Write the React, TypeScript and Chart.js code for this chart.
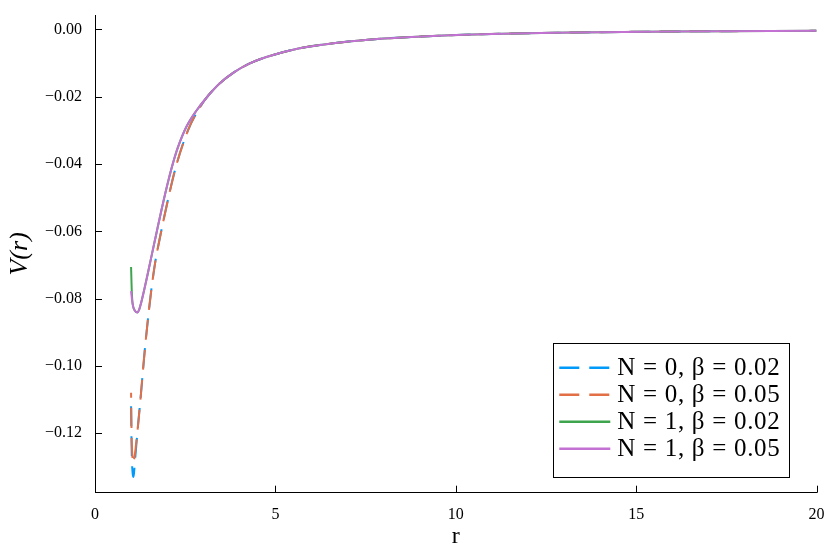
import React, { useEffect, useRef } from "react";
import { Chart, registerables } from "chart.js";

Chart.register(...registerables);

// radial grid (r) for N = 0 series
const rN0 = [1.0, 1.01, 1.02, 1.04, 1.06, 1.08, 1.11, 1.15, 1.19, 1.26, 1.38, 1.56, 1.68, 1.73, 2.05, 2.25, 2.58, 2.8, 3.09, 3.46, 3.83, 4.29, 4.75, 5.67, 6.6, 7.5, 8.64, 10.5, 13.3, 16, 20];
const vN0b002 = [-0.112, -0.121, -0.127, -0.1315, -0.133, -0.132, -0.128, -0.123, -0.118, -0.11, -0.0953, -0.0775, -0.0685, -0.0656, -0.0493, -0.0405, -0.0299, -0.0251, -0.0203, -0.016, -0.0129, -0.0101, -0.0082, -0.0056, -0.0041, -0.0031, -0.0023, -0.0015, -0.0009, -0.0006, -0.0004];
const vN0b005 = [-0.108, -0.117, -0.123, -0.1275, -0.129, -0.128, -0.126, -0.122, -0.118, -0.11, -0.0953, -0.0775, -0.0685, -0.0656, -0.0493, -0.0405, -0.0299, -0.0251, -0.0203, -0.016, -0.0129, -0.0101, -0.0082, -0.0056, -0.0041, -0.0031, -0.0023, -0.0015, -0.0009, -0.0006, -0.0004];

// radial grid for N = 1 series
const rN1b002 = [1.0, 1.01, 1.02, 1.04, 1.1, 1.17, 1.22, 1.28, 1.36, 1.45, 1.55, 1.65, 1.75, 1.85, 1.95, 2.05, 2.16, 2.3, 2.53, 2.8, 3.09, 3.46, 3.83, 4.29, 4.75, 5.67, 6.6, 7.5, 8.64, 10.5, 13.3, 16, 20];
const vN1b002 = [-0.0706, -0.0745, -0.078, -0.0812, -0.0835, -0.0841, -0.0834, -0.0812, -0.0776, -0.0732, -0.0682, -0.0632, -0.0582, -0.0533, -0.0486, -0.0442, -0.0398, -0.035, -0.029, -0.0243, -0.0203, -0.016, -0.0129, -0.0101, -0.0082, -0.0056, -0.0041, -0.0031, -0.0023, -0.0015, -0.0009, -0.0006, -0.0004];
const rN1b005 = [1.0, 1.04, 1.1, 1.17, 1.22, 1.28, 1.36, 1.45, 1.55, 1.65, 1.75, 1.85, 1.95, 2.05, 2.16, 2.3, 2.53, 2.8, 3.09, 3.46, 3.83, 4.29, 4.75, 5.67, 6.6, 7.5, 8.64, 10.5, 13.3, 16, 20];
const vN1b005 = [-0.0778, -0.0815, -0.0835, -0.0841, -0.0834, -0.0812, -0.0776, -0.0732, -0.0682, -0.0632, -0.0582, -0.0533, -0.0486, -0.0442, -0.0398, -0.035, -0.029, -0.0243, -0.0203, -0.016, -0.0129, -0.0101, -0.0082, -0.0056, -0.0041, -0.0031, -0.0023, -0.0015, -0.0009, -0.0006, -0.0004];

const seriesLabels = ["N = 0, β = 0.02", "N = 0, β = 0.05", "N = 1, β = 0.02", "N = 1, β = 0.05"];
const seriesColors = ["#009AFA", "#E36F47", "#3EA44E", "#C371D2"];

const xTicks = [0, 5, 10, 15, 20];
const yTicks = [0, -0.02, -0.04, -0.06, -0.08, -0.1, -0.12];
const xMin = 0;
const xMax = 20;
const yMin = -0.1377;
const yMax = 0.0043;

const SERIF = "'Liberation Serif', 'DejaVu Serif', serif";

function pts(xs: number[], ys: number[]) {
  return xs.map((x, i) => ({ x, y: ys[i] }));
}

const innerTicks = {
  id: "innerTicks",
  afterDraw(chart: any) {
    const ctx = chart.ctx;
    const xs = chart.scales.x;
    const ys = chart.scales.y;
    const area = chart.chartArea;
    ctx.save();
    ctx.strokeStyle = "#000";
    ctx.lineWidth = 1;
    ctx.beginPath();
    xs.ticks.forEach((t: any) => {
      const px = Math.round(xs.getPixelForValue(t.value)) + 0.5;
      ctx.moveTo(px, area.bottom);
      ctx.lineTo(px, area.bottom - 7);
    });
    ys.ticks.forEach((t: any) => {
      const py = Math.round(ys.getPixelForValue(t.value)) + 0.5;
      ctx.moveTo(area.left, py);
      ctx.lineTo(area.left + 7, py);
    });
    ctx.stroke();
    ctx.restore();
  },
};

const boxLegend = {
  id: "boxLegend",
  afterDraw(chart: any) {
    const ctx = chart.ctx;
    const area = chart.chartArea;
    const ds = chart.data.datasets;
    const fontSize = 25;
    ctx.save();
    ctx.font = `${fontSize}px ${SERIF}`;
    try {
      (ctx as any).letterSpacing = "0.7px";
    } catch (e) {}
    let tw = 0;
    ds.forEach((d: any) => {
      tw = Math.max(tw, ctx.measureText(d.label).width);
    });
    const lineLen = 51;
    const padL = 6;
    const gap = 7;
    const padR = 9;
    const rowH = 27;
    const w = padL + lineLen + gap + tw + padR;
    const h = rowH * ds.length + 26;
    const right = area.right - 27;
    const bottom = area.bottom - 16;
    const left = right - w;
    const top = bottom - h;
    ctx.fillStyle = "#fff";
    ctx.fillRect(left, top, w, h);
    ctx.strokeStyle = "#000";
    ctx.lineWidth = 1;
    ctx.strokeRect(Math.round(left) + 0.5, Math.round(top) + 0.5, Math.round(w), Math.round(h));
    ds.forEach((d: any, i: number) => {
      const cy = top + 25 + i * rowH;
      ctx.strokeStyle = d.borderColor;
      ctx.lineWidth = 2.5;
      ctx.setLineDash(d.borderDash || []);
      ctx.lineDashOffset = 0;
      ctx.beginPath();
      ctx.moveTo(left + padL, cy);
      ctx.lineTo(left + padL + lineLen, cy);
      ctx.stroke();
      ctx.setLineDash([]);
      ctx.fillStyle = "#000";
      ctx.textBaseline = "middle";
      ctx.textAlign = "left";
      ctx.fillText(d.label, left + padL + lineLen + gap, cy + 1);
    });
    ctx.restore();
  },
};

export default function App() {
  const ref = useRef<HTMLCanvasElement>(null);

  useEffect(() => {
    document.body.style.margin = "0";
    const canvas = ref.current;
    if (!canvas) return;
    const dash = [20, 10];
    const chart = new Chart(canvas, {
      type: "line",
      data: {
        datasets: [
          { label: seriesLabels[0], data: pts(rN0, vN0b002), borderColor: seriesColors[0], borderDash: dash, order: 4 },
          { label: seriesLabels[1], data: pts(rN0, vN0b005), borderColor: seriesColors[1], borderDash: dash, borderDashOffset: 15, order: 3 },
          { label: seriesLabels[2], data: pts(rN1b002, vN1b002), borderColor: seriesColors[2], order: 2 },
          { label: seriesLabels[3], data: pts(rN1b005, vN1b005), borderColor: seriesColors[3], order: 1 },
        ] as any,
      },
      options: {
        animation: false,
        responsive: false,
        devicePixelRatio: 1,
        parsing: false as any,
        elements: {
          point: { radius: 0 },
          line: { borderWidth: 2, cubicInterpolationMode: "monotone", fill: false },
        },
        layout: { padding: { left: 4, right: 13.5, top: 15, bottom: 0 } },
        plugins: {
          legend: { display: false },
          tooltip: { enabled: false },
        },
        scales: {
          x: {
            type: "linear",
            min: xMin,
            max: xMax,
            afterBuildTicks: (s: any) => {
              s.ticks = xTicks.map((v) => ({ value: v }));
            },
            afterFit: (s: any) => {
              s.height = 554 - 492.7;
              s.paddingLeft = 0;
              s.paddingRight = 0;
            },
            grid: { display: false, drawTicks: false },
            border: { display: true, color: "#000", width: 1 },
            ticks: {
              color: "#000",
              font: { family: SERIF, size: 16 },
              padding: 12,
              maxRotation: 0,
              callback: (v: any) => String(v),
            },
            title: {
              display: true,
              text: "r",
              color: "#000",
              font: { family: SERIF, size: 24 },
              padding: { top: 0, bottom: 3 },
            },
          },
          y: {
            type: "linear",
            min: yMin,
            max: yMax,
            afterBuildTicks: (s: any) => {
              s.ticks = yTicks.map((v) => ({ value: v }));
            },
            afterFit: (s: any) => {
              s.width = 95 - 4;
              s.paddingTop = 0;
              s.paddingBottom = 0;
            },
            grid: { display: false, drawTicks: false },
            border: { display: true, color: "#000", width: 1 },
            ticks: {
              color: "#000",
              font: { family: SERIF, size: 16 },
              padding: 13,
              callback: (v: any) => {
                const n = Number(v);
                const s = Math.abs(n).toFixed(2);
                return n < -1e-9 ? "\u2212" + s : s;
              },
            },
            title: {
              display: true,
              text: "V(r)",
              color: "#000",
              font: { family: SERIF, size: 26, style: "italic" },
              padding: { top: 1, bottom: 0 },
            },
          },
        },
      },
      plugins: [innerTicks, boxLegend],
    });
    return () => chart.destroy();
  }, []);

  return (
    <div style={{ position: "fixed", left: 0, top: 0, width: 830, height: 554, background: "#fff" }}>
      <canvas ref={ref} width={830} height={554} />
    </div>
  );
}
